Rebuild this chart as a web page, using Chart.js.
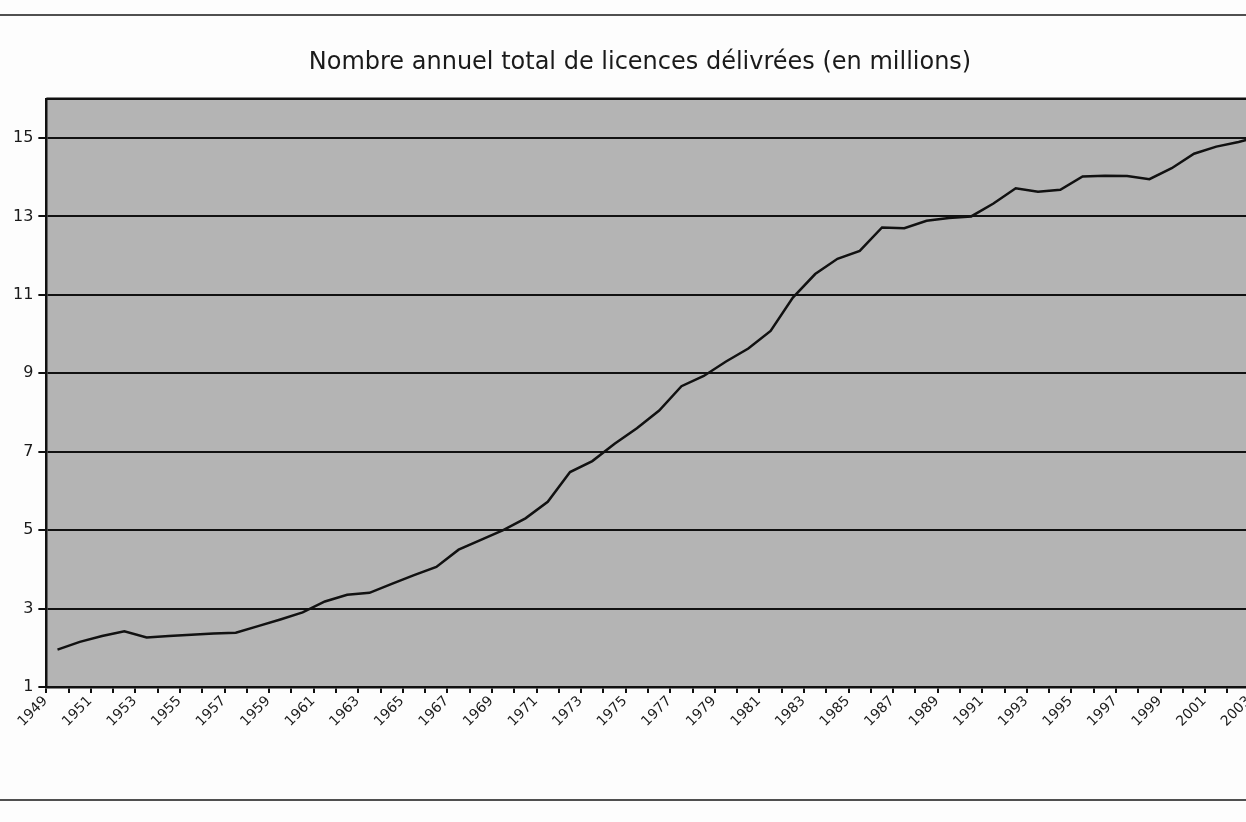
<!DOCTYPE html>
<html lang="fr">
<head>
<meta charset="utf-8">
<title>Licences délivrées</title>
<script src="https://cdn.jsdelivr.net/npm/chart.js@4"></script>
<style>
  html, body { margin: 0; padding: 0; background: #fdfdfd; overflow: hidden; }
  #wrap { position: relative; width: 1246px; height: 822px; overflow: hidden; }
  #licences { position: absolute; left: 0; top: 0; }
</style>
</head>
<body>
<div id="wrap">
  <canvas id="licences" width="1280" height="822"></canvas>
</div>
<script>
// années (axe des x)
const annees = [
  "1949", "1950", "1951", "1952", "1953", "1954", "1955", "1956", "1957", "1958",
  "1959", "1960", "1961", "1962", "1963", "1964", "1965", "1966", "1967", "1968",
  "1969", "1970", "1971", "1972", "1973", "1974", "1975", "1976", "1977", "1978",
  "1979", "1980", "1981", "1982", "1983", "1984", "1985", "1986", "1987", "1988",
  "1989", "1990", "1991", "1992", "1993", "1994", "1995", "1996", "1997", "1998",
  "1999", "2000", "2001", "2002", "2003"
];

// nombre de licences délivrées, en millions
const licences = [
  1.95, 2.15, 2.30, 2.42, 2.26, 2.30, 2.33, 2.36, 2.38, 2.55,
  2.72, 2.90, 3.18, 3.35, 3.40, 3.63, 3.85, 4.06, 4.50, 4.75,
  5.00, 5.30, 5.72, 6.48, 6.76, 7.20, 7.60, 8.05, 8.67, 8.93,
  9.30, 9.63, 10.08, 10.93, 11.53, 11.92, 12.12, 12.72, 12.70, 12.89,
  12.96, 13.00, 13.33, 13.72, 13.63, 13.68, 14.02, 14.04, 14.03, 13.95,
  14.23, 14.60, 14.78, 14.90, 15.05
];

// graduations de l'axe des y
const graduationsY = [1, 3, 5, 7, 9, 11, 13, 15];

const titre = "Nombre annuel total de licences délivrées (en millions)";
const police = "DejaVu Sans, Verdana, sans-serif";

// fond gris de la zone de tracé + cadre + filets de page
const fondPlugin = {
  id: "fond",
  beforeDraw(chart) {
    const { ctx, chartArea: a, width } = chart;
    ctx.save();
    ctx.fillStyle = "#fdfdfd";
    ctx.fillRect(0, 0, width, chart.height);
    ctx.fillStyle = "#b4b4b4";
    ctx.fillRect(a.left, a.top, a.right - a.left, a.bottom - a.top);
    // filets haut et bas de la page
    ctx.strokeStyle = "#505050";
    ctx.lineWidth = 2;
    ctx.beginPath();
    ctx.moveTo(0, 15); ctx.lineTo(width, 15);
    ctx.moveTo(0, 800); ctx.lineTo(width, 800);
    ctx.stroke();
    ctx.restore();
  },
  afterDatasetsDraw(chart) {
    const { ctx, chartArea: a } = chart;
    ctx.save();
    ctx.strokeStyle = "#111";
    ctx.lineWidth = 2.5;
    ctx.beginPath();
    ctx.moveTo(a.left, a.top);
    ctx.lineTo(a.right, a.top);
    ctx.stroke();
    ctx.restore();
  }
};

const ctx = document.getElementById("licences").getContext("2d");

new Chart(ctx, {
  type: "line",
  data: {
    labels: annees,
    datasets: [{
      label: "Licences délivrées",
      data: licences,
      borderColor: "#111",
      borderWidth: 2.5,
      pointRadius: 0,
      tension: 0,
      fill: false
    }]
  },
  options: {
    responsive: false,
    animation: false,
    layout: { padding: { left: 8, right: 8, top: 0, bottom: 92 } },
    plugins: {
      legend: { display: false },
      tooltip: { enabled: false },
      title: {
        display: true,
        text: titre,
        color: "#1a1a1a",
        font: { family: police, size: 24, weight: "normal" },
        padding: { top: 48, bottom: 22 }
      }
    },
    scales: {
      x: {
        type: "category",
        offset: true,
        border: { color: "#111", width: 2.5 },
        grid: {
          offset: true,
          drawOnChartArea: false,
          color: "#111",
          lineWidth: 2,
          tickLength: 6
        },
        ticks: {
          autoSkip: false,
          minRotation: 45,
          maxRotation: 45,
          labelOffset: -12,
          padding: 0,
          color: "#1a1a1a",
          font: { family: police, size: 14 },
          callback: (v, i) => (i % 2 === 0 ? annees[i] : "")
        }
      },
      y: {
        min: 1,
        max: 16,
        afterBuildTicks: axis => {
          axis.ticks = graduationsY.map(v => ({ value: v }));
        },
        border: { color: "#111", width: 2.5 },
        grid: {
          color: "#111",
          lineWidth: 2,
          tickLength: 8
        },
        ticks: {
          padding: 5,
          color: "#1a1a1a",
          font: { family: police, size: 16 }
        }
      }
    }
  },
  plugins: [fondPlugin]
});
</script>
</body>
</html>
